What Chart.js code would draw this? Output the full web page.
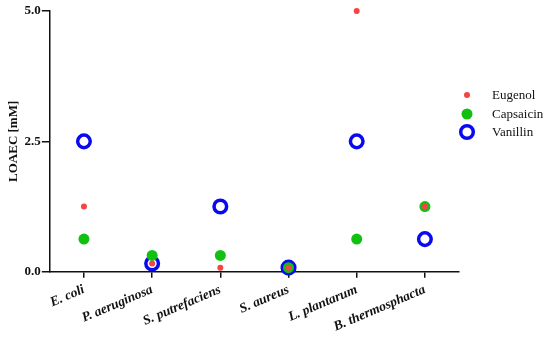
<!DOCTYPE html>
<html><head><meta charset="utf-8">
<script src="https://cdn.jsdelivr.net/npm/chart.js@4/dist/chart.umd.min.js"></script>
<style>html,body{margin:0;padding:0;background:#fff}#wrap{width:550px;height:339px}</style>
</head><body><div id="wrap"><canvas id="c"></canvas></div>
<script>
const categories = ["E. coli", "P. aeruginosa", "S. putrefaciens", "S. aureus", "L. plantarum", "B. thermosphacta"];
const eugenol = [1.25, 0.156, 0.078, 0.078, 5.0, 1.25];
const capsaicin = [0.625, 0.3125, 0.3125, 0.078, 0.625, 1.25];
const vanillin = [2.5, 0.156, 1.25, 0.078, 2.5, 0.625];
const yTicks = [0, 2.5, 5.0];

const serif = "'Liberation Serif', 'DejaVu Serif', serif";

const legendPlugin = {
  id: 'sideLegend',
  afterDraw(chart) {
    const ctx = chart.ctx;
    const a = chart.chartArea;
    const offsets = [84, 103, 121];
    ctx.save();
    ctx.font = "13px " + serif;
    ctx.textBaseline = 'middle';
    ctx.fillStyle = '#111';
    chart.data.datasets.forEach((ds, i) => {
      const x = a.right + 8, y = a.top + offsets[i];
      ctx.beginPath();
      ctx.arc(x, y, ds.pointRadius, 0, Math.PI * 2);
      if (ds.pointBorderWidth > 0) {
        ctx.lineWidth = ds.pointBorderWidth;
        ctx.strokeStyle = ds.pointBorderColor;
        ctx.stroke();
      } else {
        ctx.fillStyle = ds.pointBackgroundColor;
        ctx.fill();
      }
      ctx.fillStyle = '#111';
      ctx.fillText(ds.label, a.right + 33, y + 1);
    });
    ctx.restore();
  }
};

new Chart(document.getElementById('c'), {
  type: 'line',
  data: {
    labels: categories,
    datasets: [
      {label: 'Eugenol', data: eugenol, showLine: false, clip: false, pointRadius: 3, pointBackgroundColor: '#f44545', pointBorderColor: '#f44545', pointBorderWidth: 0, backgroundColor: '#f44545', borderColor: '#f44545'},
      {label: 'Capsaicin', data: capsaicin, showLine: false, clip: false, pointRadius: 5.5, pointBackgroundColor: '#11c011', pointBorderColor: '#11c011', pointBorderWidth: 0, backgroundColor: '#11c011', borderColor: '#11c011'},
      {label: 'Vanillin', data: vanillin, showLine: false, clip: false, pointRadius: 6.3, pointBackgroundColor: 'rgba(255,255,255,0)', pointBorderColor: '#0a0af0', pointBorderWidth: 3.5, backgroundColor: 'rgba(255,255,255,0)', borderColor: '#0a0af0', borderWidth: 3.5}
    ]
  },
  plugins: [legendPlugin],
  options: {
    responsive: true, maintainAspectRatio: false, animation: false,
    layout: {padding: {top: 11, left: 6, right: 91, bottom: 0}},
    plugins: {
      tooltip: {enabled: false},
      legend: {display: false}
    },
    scales: {
      x: {
        offset: true,
        border: {display: true, color: '#111', width: 1.5},
        grid: {display: true, drawOnChartArea: false, drawTicks: true, tickLength: 6, color: '#111', lineWidth: 1.5, offset: false},
        ticks: {color: '#111', minRotation: 23, maxRotation: 23, padding: 4, font: {family: serif, size: 13.5, weight: 'bold', style: 'italic'}}
      },
      y: {
        min: 0, max: 5,
        afterBuildTicks: (s) => { s.ticks = yTicks.map(v => ({value: v})); },
        border: {display: true, color: '#111', width: 1.5},
        grid: {display: true, drawOnChartArea: false, drawTicks: true, tickLength: 8, color: '#111', lineWidth: 1.5},
        ticks: {color: '#111', padding: 1, callback: (v) => Number(v).toFixed(1), font: {family: serif, size: 13, weight: 'bold'}},
        title: {display: true, text: 'LOAEC [mM]', color: '#111', padding: {top: 0, bottom: 2}, font: {family: serif, size: 13, weight: 'bold'}}
      }
    }
  }
});
</script></body></html>
